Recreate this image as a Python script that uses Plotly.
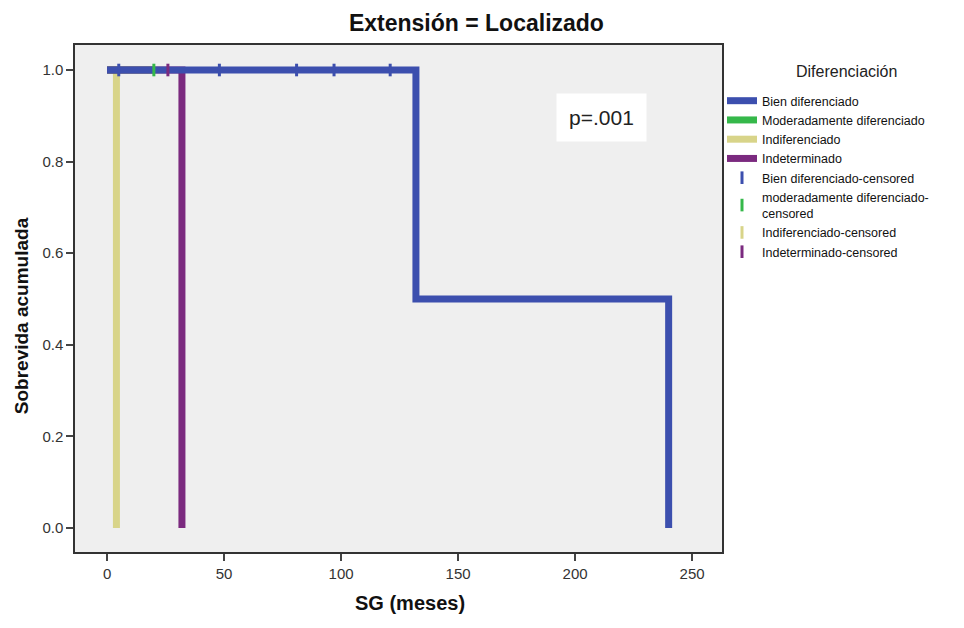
import plotly.graph_objects as go

# ---- data ----
bien_t = [0, 132, 240]
bien_s = [1.0, 0.5, 0.0]
mod_t = [0, 20]
mod_s = [1.0, 1.0]
indif_t = [0, 4]
indif_s = [1.0, 0.0]
indet_t = [0, 32]
indet_s = [1.0, 0.0]

bien_cens_t = [5, 48, 81, 97, 121]
bien_cens_s = [1.0, 1.0, 1.0, 1.0, 1.0]
mod_cens_t = [20]
mod_cens_s = [1.0]
indif_cens_t = [None]
indif_cens_s = [None]
indet_cens_t = [26]
indet_cens_s = [1.0]

names = ["Bien diferenciado", "Moderadamente diferenciado", "Indiferenciado", "Indeterminado"]
cens_names = ["Bien diferenciado-censored", "moderadamente diferenciado-<br>censored",
              "Indiferenciado-censored", "Indeterminado-censored"]
colors = ["#3c4fae", "#35b84a", "#d8d489", "#7b2a7f"]

x_ticks = [0, 50, 100, 150, 200, 250]
y_ticks = [0.0, 0.2, 0.4, 0.6, 0.8, 1.0]

FONT = "Liberation Sans, Arial, sans-serif"

fig = go.Figure()

curves = {0: (bien_t, bien_s), 1: (mod_t, mod_s), 2: (indif_t, indif_s), 3: (indet_t, indet_s)}
for idx in [2, 1, 3, 0]:
    t, s = curves[idx]
    fig.add_trace(go.Scatter(x=t, y=s, mode="lines", line=dict(color=colors[idx], width=7, shape="hv"),
                             name=names[idx], legendrank=idx + 1))

cens = [(bien_cens_t, bien_cens_s), (mod_cens_t, mod_cens_s), (indif_cens_t, indif_cens_s), (indet_cens_t, indet_cens_s)]
for i, (t, s) in enumerate(cens):
    fig.add_trace(go.Scatter(x=t, y=s, mode="markers",
                             marker=dict(symbol="line-ns", size=9, color=colors[i],
                                         line=dict(color=colors[i], width=3)),
                             name=cens_names[i], legendrank=5 + i))

fig.add_annotation(x=211.5, y=0.897, xref="x", yref="y", text="p=.001", showarrow=False,
                   font=dict(family=FONT, size=21, color="#222"),
                   bgcolor="white", borderpad=12)

# axis titles and legend heading as annotations placed in paper coordinates
fig.add_annotation(x=0.518, y=-0.1006, xref="paper", yref="paper", text="<b>SG (meses)</b>", showarrow=False,
                   xanchor="center", yanchor="middle", font=dict(family=FONT, size=20, color="#111"))
fig.add_annotation(x=-0.0835, y=0.467, xref="paper", yref="paper", text="<b>Sobrevida acumulada</b>",
                   showarrow=False, textangle=-90, xanchor="center", yanchor="middle",
                   font=dict(family=FONT, size=19, color="#111"))
fig.add_annotation(x=1.193, y=0.947, xref="paper", yref="paper", text="Diferenciación", showarrow=False,
                   xanchor="center", yanchor="middle", font=dict(family=FONT, size=16, color="#222"))

fig.update_layout(
    width=956, height=620,
    paper_bgcolor="white", plot_bgcolor="#efefef",
    margin=dict(l=67, r=242, t=37, b=76),
    title=dict(text="<b>Extensión = Localizado</b>", x=0.49, xanchor="center", y=0.976, yanchor="middle",
               font=dict(family=FONT, size=23, color="#111")),
    font=dict(family=FONT, color="#222"),
    xaxis=dict(range=[-13.7, 262.8], tickvals=x_ticks, ticks="outside", ticklen=7, tickwidth=1.5,
               showgrid=False, zeroline=False, showline=True, linecolor="#333", linewidth=1.5, mirror=True,
               tickfont=dict(family=FONT, size=15, color="#333"), automargin=False),
    yaxis=dict(range=[-0.0524, 1.0546], tickvals=y_ticks, tickformat=".1f", ticks="outside", ticklen=7, tickwidth=1.5,
               showgrid=False, zeroline=False, showline=True, linecolor="#333", linewidth=1.5, mirror=True,
               tickfont=dict(family=FONT, size=15, color="#333"), automargin=False),
    legend=dict(x=1.0, y=0.919, xanchor="left", yanchor="top", bgcolor="rgba(255,255,255,0)",
                font=dict(family=FONT, size=12.5, color="#111"), tracegroupgap=0, itemwidth=30),
    showlegend=True,
)

fig.write_html("out.html")
